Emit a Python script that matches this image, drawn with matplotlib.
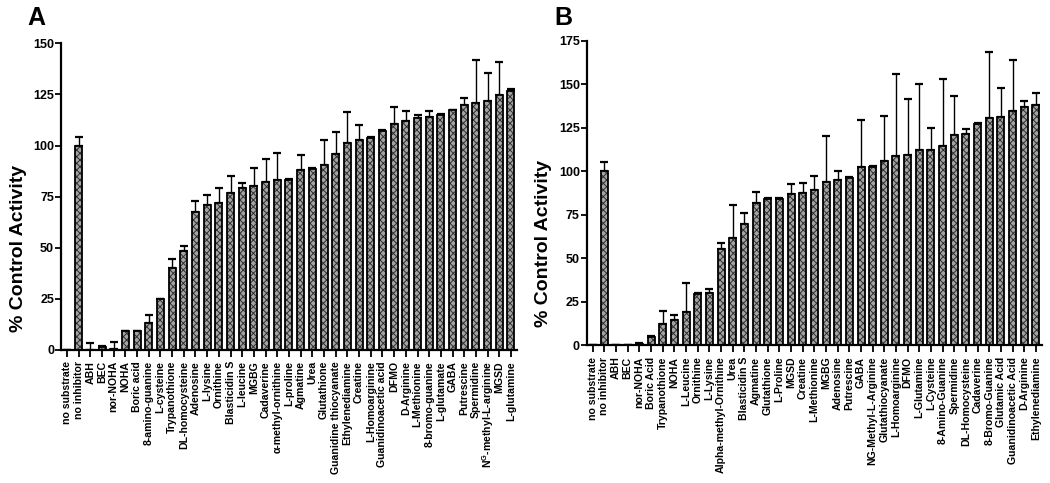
import numpy as np
import matplotlib
matplotlib.use("Agg")
import matplotlib.pyplot as plt

plt.rcParams["font.family"] = ["Liberation Sans", "DejaVu Sans"]
plt.rcParams["font.weight"] = "bold"
plt.rcParams["mathtext.fontset"] = "custom"
plt.rcParams["mathtext.rm"] = "Liberation Sans:bold"
plt.rcParams["mathtext.bf"] = "Liberation Sans:bold"
plt.rcParams["mathtext.default"] = "bf"
plt.rcParams["hatch.linewidth"] = 0.7

# Panel A data
labels_a = ["no substrate", "no inhibitor", "ABH", "BEC", "nor-NOHA", "NOHA",
            "Boric acid", "8-amino-guanine", "L-cysteine", "Trypanothione",
            "DL-homocysteine", "Adenosine", "L-lysine", "Ornithine",
            "Blasticidin S", "L-leucine", "MGBG", "Cadaverine",
            "\u03b1-methyl-ornithine", "L-proline", "Agmatine", "Urea",
            "Glutathione", "Guanidine thiocyanate", "Ethylenediamine", "Creatine",
            "L-Homoarginine", "Guanidinoacetic acid", "DFMO", "D-Arginine",
            "L-Methionine", "8-bromo-guanine", "L-glutamate", "GABA",
            "Putrescine", "Spermidine", "N$^{G}$-methyl-L-arginine", "MGSD",
            "L-glutamine"]
values_a = [0, 100, 0, 1.5, 0.7, 9.5, 9.5, 13, 25, 40, 48.5, 67.5, 71, 72, 77,
            79, 80, 82, 83, 83.3, 88.2, 88.6, 90.7, 96, 101, 102.8, 103.6,
            107.2, 110.3, 112, 113.6, 114, 114.9, 117.2, 120, 120.6, 122,
            124.5, 126.5]
errors_a = [0, 4, 3.6, 0.5, 3.3, 0, 0, 4, 0, 4.5, 2.5, 5.5, 5, 7, 8, 2.5, 9,
            11.5, 13.5, 0.5, 7.4, 0.4, 12, 10.5, 15.5, 7, 0.5, 0.3, 8.7, 5,
            1.3, 3, 0.5, 0.3, 3, 21, 13.3, 16.5, 1.1]

# Panel B data
labels_b = ["no substrate", "no inhibitor", "ABH", "BEC", "nor-NOHA",
            "Boric Acid", "Trypanothione", "NOHA", "L-Leucine", "Ornithine",
            "L-Lysine", "Alpha-methyl-Ornithine", "Urea", "Blasticidin S",
            "Agmatine", "Glutathione", "L-Proline", "MGSD", "Creatine",
            "L-Methionine", "MGBG", "Adenosine", "Putrescine", "GABA",
            "NG-Methyl-L-Arginine", "Glutathiocyanate", "L-Homoarginine", "DFMO",
            "L-Glutamine", "L-Cysteine", "8-Amino-Guanine", "Spermidine",
            "DL-Homocysteine", "Cadaverine", "8-Bromo-Guanine", "Glutamic Acid",
            "Guanidinoacetic Acid", "D-Arginine", "Ethylenediamine"]
values_b = [0, 100, 0, 0, 1.1, 4.8, 12.2, 14.7, 19.1, 29.6, 30.2, 55.2, 62, 70,
            82, 84.4, 84.4, 86.8, 87.8, 89.5, 94.1, 94.8, 96.2, 102.5, 102.7,
            105.7, 108.8, 109.5, 112.2, 112.2, 114.7, 120.6, 121.2, 127.3,
            130.7, 131.3, 134.5, 136.8, 138]
errors_b = [0, 5.2, 0, 0, 0.3, 0.5, 7.6, 2.7, 16.8, 0.4, 2.1, 3.4, 18.7, 6,
            6.2, 0.5, 0.3, 6.2, 5.7, 8, 26.1, 5.6, 0.3, 26.7, 0.6, 25.8, 46.9,
            31.9, 38.2, 12.8, 38.2, 22.4, 3.2, 0.3, 37.8, 16.7, 29.5, 3.7, 7]

fig = plt.figure(figsize=(10.5, 4.83), dpi=100)
ax_a = fig.add_axes([0.0581, 0.2754, 0.434, 0.635])
ax_b = fig.add_axes([0.5588, 0.2847, 0.4333, 0.6310])


def draw_panel(ax, labels, values, errors, ymax, label_x, label_y):
    x = np.arange(len(labels))
    errors = np.array(errors)
    ax.errorbar(x, values, yerr=[np.zeros_like(errors), errors], fmt="none",
                ecolor="black", elinewidth=1.0, capsize=2.8, capthick=1.6,
                zorder=1)
    # checkered fill, then black outline
    ax.bar(x, values, width=0.6, color="#a4a4a4", edgecolor="#2e2e2e",
           hatch="xxxxx", linewidth=0, zorder=2)
    ax.bar(x, values, width=0.6, fill=False, edgecolor="black",
           linewidth=1.3, zorder=3)
    ax.set_xlim(-0.51, len(labels) - 0.51)
    ax.set_ylim(0, ymax)
    ax.set_yticks(np.arange(0, ymax + 1, 25))
    ax.set_xticks(x)
    ax.set_xticklabels(labels, rotation=90, fontsize=7.6, fontweight="bold")
    ax.tick_params(axis="y", labelsize=9, width=1.3, length=4, pad=1)
    ax.tick_params(axis="x", width=1.3, length=5, pad=3)
    for lab in ax.get_yticklabels():
        lab.set_fontweight("bold")
    for side in ["top", "right"]:
        ax.spines[side].set_visible(False)
    for side in ["left", "bottom"]:
        ax.spines[side].set_linewidth(1.6)
    ax.set_ylabel("% Control Activity", fontsize=14, fontweight="bold")
    ax.yaxis.set_label_coords(label_x, label_y)


draw_panel(ax_a, labels_a, values_a, errors_a, 150, -0.074, 0.33)
draw_panel(ax_b, labels_b, values_b, errors_b, 175, -0.076, 0.335)

fig.text(0.0343, 0.948, "A", fontsize=18, fontweight="bold",
         ha="center", va="baseline")
fig.text(0.537, 0.948, "B", fontsize=18, fontweight="bold",
         ha="center", va="baseline")

fig.savefig("out.png", dpi=100)
